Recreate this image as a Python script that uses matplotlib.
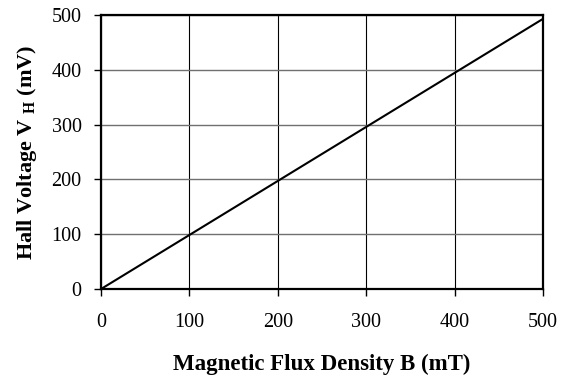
import matplotlib
matplotlib.use("Agg")
import matplotlib.pyplot as plt

B_mT = [0, 100, 200, 300, 400, 500]
V_mV = [0, 98.6, 197.2, 295.8, 394.4, 493]
x_ticks = [0, 100, 200, 300, 400, 500]
y_ticks = [0, 100, 200, 300, 400, 500]

plt.rcParams['font.family'] = ['Liberation Serif', 'DejaVu Serif']
plt.rcParams['mathtext.fontset'] = 'custom'
plt.rcParams['mathtext.rm'] = 'Liberation Serif:bold'
plt.rcParams['mathtext.bf'] = 'Liberation Serif:bold'

fig = plt.figure(figsize=(5.71, 3.78), dpi=100)
ax = fig.add_axes([0.1769, 0.2354, 0.951 - 0.1769, 0.9603 - 0.2354])

ax.plot(B_mT, V_mV, color='black', lw=1.5, solid_capstyle='butt')
ax.set_xlim(0, 500)
ax.set_ylim(0, 500)
ax.set_xticks(x_ticks)
ax.set_yticks(y_ticks)
ax.tick_params(axis='both', direction='out', length=5, width=1, labelsize=14.5, color='black')
ax.tick_params(axis='y', pad=9)
ax.tick_params(axis='x', pad=12)
ax.grid(axis='x', color='black', lw=0.8)
ax.grid(axis='y', color='#707070', lw=1.0)
for s in ax.spines.values():
    s.set_linewidth(1.6)
    s.set_color('black')

ax.set_xlabel('Magnetic Flux Density B (mT)', fontsize=16.5, fontweight='bold', labelpad=16)
ax.set_ylabel(r'Hall Voltage V $_{\mathrm{H}}$ (mV)', fontsize=16, fontweight='bold', labelpad=9)

fig.savefig('out.png', dpi=100)
